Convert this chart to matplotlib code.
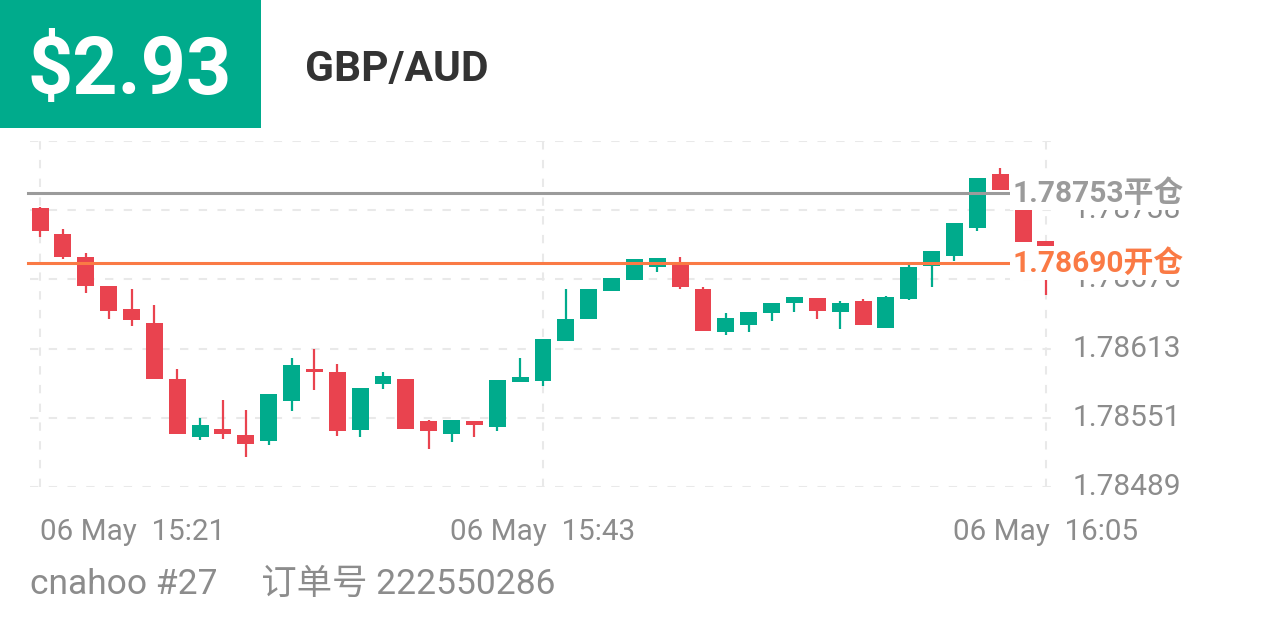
import numpy as np
import matplotlib
matplotlib.use("Agg")
import matplotlib.pyplot as plt
from matplotlib.patches import Rectangle
from matplotlib.transforms import offset_copy

plt.rcParams['font.family'] = ['Roboto', 'Noto Sans CJK SC', 'DejaVu Sans']

# one-minute candles, 06 May 15:21 .. 16:05
times = ["15:21", "15:22", "15:23", "15:24", "15:25", "15:26", "15:27", "15:28", "15:29",
         "15:30", "15:31", "15:32", "15:33", "15:34", "15:35", "15:36", "15:37", "15:38",
         "15:39", "15:40", "15:41", "15:42", "15:43", "15:44", "15:45", "15:46", "15:47",
         "15:48", "15:49", "15:50", "15:51", "15:52", "15:53", "15:54", "15:55", "15:56",
         "15:57", "15:58", "15:59", "16:00", "16:01", "16:02", "16:03", "16:04", "16:05"]
opens = [1.78740, 1.78716, 1.78696, 1.78670, 1.78649, 1.78636, 1.78586, 1.78534, 1.78541,
         1.78536, 1.78530, 1.78566, 1.78595, 1.78592, 1.78540, 1.78582, 1.78586, 1.78548,
         1.78537, 1.78548, 1.78543, 1.78583, 1.78584, 1.78620, 1.78640, 1.78665, 1.78675,
         1.78687, 1.78691, 1.78667, 1.78628, 1.78635, 1.78645, 1.78654, 1.78659, 1.78646,
         1.78656, 1.78632, 1.78658, 1.78688, 1.78697, 1.78722, 1.78770, 1.78741, 1.78710]
highs = [1.78741, 1.78721, 1.78699, 1.78670, 1.78667, 1.78653, 1.78595, 1.78551, 1.78567,
         1.78558, 1.78573, 1.78605, 1.78613, 1.78600, 1.78578, 1.78592, 1.78586, 1.78549,
         1.78549, 1.78548, 1.78585, 1.78605, 1.78622, 1.78667, 1.78667, 1.78677, 1.78694,
         1.78695, 1.78696, 1.78669, 1.78645, 1.78646, 1.78654, 1.78660, 1.78659, 1.78656,
         1.78658, 1.78661, 1.78689, 1.78701, 1.78726, 1.78767, 1.78776, 1.78741, 1.78710]
lows = [1.78714, 1.78694, 1.78663, 1.78640, 1.78634, 1.78586, 1.78537, 1.78531, 1.78532,
        1.78516, 1.78527, 1.78557, 1.78576, 1.78535, 1.78534, 1.78577, 1.78541, 1.78523,
        1.78529, 1.78534, 1.78539, 1.78583, 1.78580, 1.78620, 1.78640, 1.78665, 1.78675,
        1.78682, 1.78667, 1.78629, 1.78626, 1.78628, 1.78638, 1.78646, 1.78640, 1.78631,
        1.78635, 1.78632, 1.78657, 1.78669, 1.78692, 1.78719, 1.78756, 1.78709, 1.78662]
closes = [1.78719, 1.78696, 1.78670, 1.78647, 1.78639, 1.78586, 1.78537, 1.78545, 1.78537,
          1.78528, 1.78573, 1.78599, 1.78592, 1.78539, 1.78578, 1.78589, 1.78541, 1.78539,
          1.78549, 1.78545, 1.78585, 1.78588, 1.78622, 1.78640, 1.78667, 1.78677, 1.78694,
          1.78695, 1.78669, 1.78629, 1.78641, 1.78646, 1.78654, 1.78660, 1.78647, 1.78654,
          1.78635, 1.78660, 1.78687, 1.78701, 1.78726, 1.78767, 1.78756, 1.78709, 1.78706]

tick_times = ["15:21", "15:43", "16:05"]
y_ticks = [1.78489, 1.785512, 1.786134, 1.786756, 1.787378, 1.78800]
close_price = 1.78753
open_price = 1.78690
profit = "$2.93"
symbol = "GBP/AUD"
footer = "cnahoo #27     订单号 222550286"

GREEN = "#00ab8c"
RED = "#e9434f"
GRAY = "#8c8c8c"
W, H = 1266, 633

fig = plt.figure(figsize=(12.66, 6.33), dpi=100)
ax = fig.add_axes([30 / W, 1 - 487 / H, 1026 / W, 346 / H])

x = np.arange(len(times))
o = np.array(opens); c = np.array(closes)
up = c >= o
cols = np.where(up, GREEN, RED)

# wicks then bodies
ax.vlines(x, lows, highs, colors=cols, linewidth=1.6, zorder=3)
body_lo = np.minimum(o, c)
body_h = np.maximum(np.abs(c - o), 0.000016)
ax.bar(x, body_h, bottom=body_lo, width=0.74, color=cols, linewidth=0, zorder=4)

ax.set_xlim(-0.44, 44.44)
ax.set_ylim(y_ticks[0], y_ticks[-1])

# dashed grid
for yv in y_ticks:
    ax.axhline(yv, color="#e9e9e9", lw=1.5, dashes=(4, 5), zorder=1)
tick_pos = [times.index(t) for t in tick_times]
for xv in tick_pos:
    ax.axvline(xv, color="#e9e9e9", lw=1.5, dashes=(4, 5), zorder=1)

for s in ax.spines.values():
    s.set_visible(False)

ax.yaxis.tick_right()
ax.set_yticks(y_ticks[:-1])
yl = ax.set_yticklabels(["%.5f" % v for v in y_ticks[:-1]], fontsize=21.5, color=GRAY)
for t in yl:
    t.set_verticalalignment("center")
ax.tick_params(axis="y", length=0, pad=12)

ax.set_xticks(tick_pos)
xl = ax.set_xticklabels(["06 May  " + t for t in tick_times], fontsize=21.3, color=GRAY)
xl[0].set_horizontalalignment("left")
xl[0].set_transform(offset_copy(xl[0].get_transform(), fig=fig, x=4, y=0, units="dots"))
ax.tick_params(axis="x", length=0, pad=22)

# position lines with labels
for price, col, tag in [(close_price, "#9b9b9b", "平仓"), (open_price, "#fa7a45", "开仓")]:
    ax.plot([-0.52, 42.55], [price, price], color=col, lw=2.2, zorder=5, clip_on=False)
    ax.text(42.55, price, "%.5f%s" % (price, tag), color=col, fontsize=21.5, fontweight="bold",
            ha="left", va="center", zorder=10, clip_on=False,
            bbox=dict(facecolor="white", edgecolor="none", pad=2))

# header
fig.add_artist(Rectangle((0, 1 - 128 / H), 261 / W, 128 / H, transform=fig.transFigure,
                         facecolor=GREEN, edgecolor="none"))
fig.text(130 / W, 1 - 94 / H, profit, color="white", fontsize=57, fontweight="bold",
         ha="center", va="baseline")
fig.text(305 / W, 1 - 81 / H, symbol, color="#333333", fontsize=30.5, fontweight="bold",
         ha="left", va="baseline")
fig.text(30 / W, 1 - 594 / H, footer, color=GRAY, fontsize=25.5, ha="left", va="baseline")

fig.savefig("out.png", dpi=100, facecolor="white")
